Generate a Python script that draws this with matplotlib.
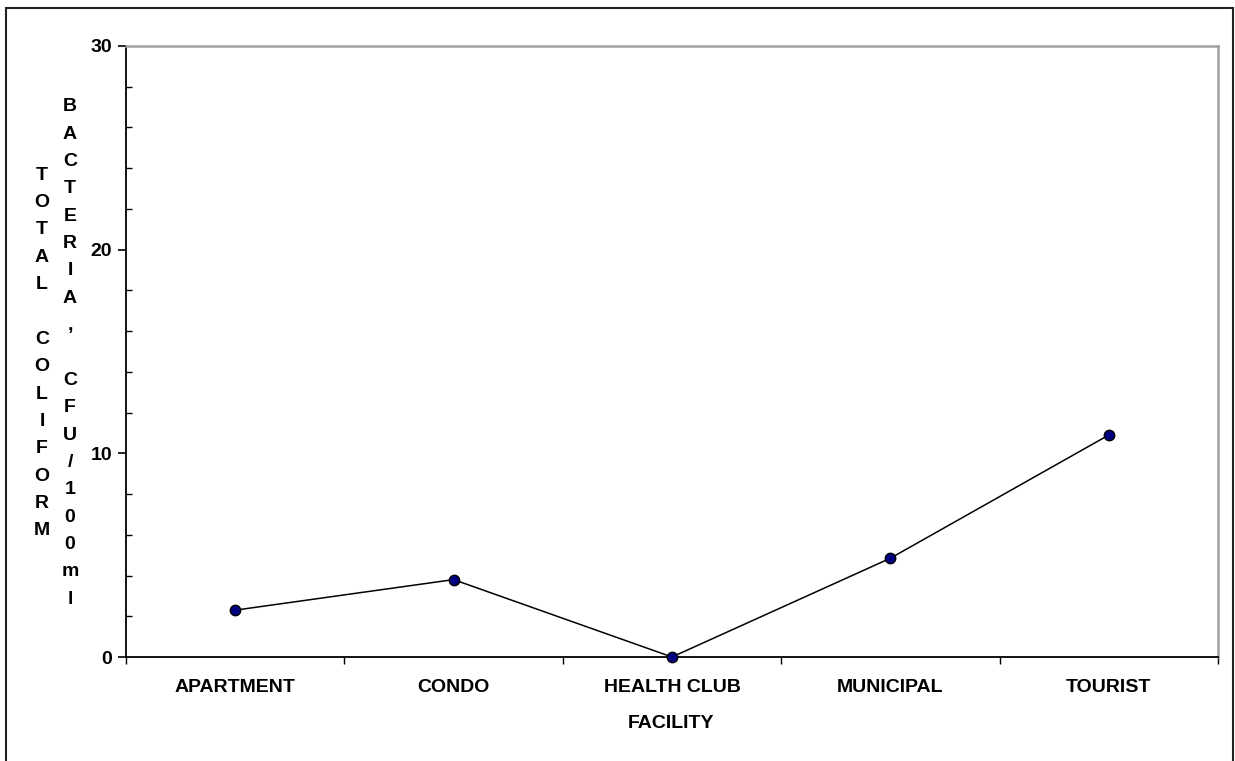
import matplotlib
matplotlib.use("Agg")
import matplotlib.pyplot as plt
from matplotlib.patches import Rectangle
from matplotlib.ticker import FixedLocator, MultipleLocator

categories = ["APARTMENT", "CONDO", "HEALTH CLUB", "MUNICIPAL", "TOURIST"]
values = [2.3, 3.8, 0.0, 4.85, 10.9]
y_ticks = [0, 10, 20, 30]
x_title = "FACILITY"
y_title_col1 = "TOTAL COLIFORM"
y_title_col2 = "BACTERIA, CFU/100ml"

W, H = 1235, 761
FS = 14
fig = plt.figure(figsize=(W / 100, H / 100), dpi=100)
plt.rcParams['font.family'] = ['Liberation Sans', 'DejaVu Sans']

# outer frame
fig.patches.append(Rectangle((6 / W, -0.05), (1233 - 6) / W, 1 - 8 / H + 0.05,
                             transform=fig.transFigure, fill=False,
                             edgecolor='#222222', linewidth=1.5))

L, R, T, B = 126, 1218, 46, 657
ax = fig.add_axes([L / W, 1 - B / H, (R - L) / W, (B - T) / H])

x = list(range(len(categories)))
ax.plot(x, values, color='black', linewidth=1.1, marker='o', markersize=7.5,
        markerfacecolor='#000080', markeredgecolor='black', markeredgewidth=1,
        zorder=5, clip_on=False)

ax.set_xlim(-0.5, len(categories) - 0.5)
ax.set_ylim(0, 30)

ax.set_yticks(y_ticks)
ax.set_yticklabels([str(v) for v in y_ticks], fontsize=FS, fontweight='bold')
ax.yaxis.set_minor_locator(MultipleLocator(2))
ax.tick_params(axis='y', which='major', direction='out', length=6, width=1.2, pad=4)
ax.tick_params(axis='y', which='minor', direction='in', length=4, width=1)

ax.xaxis.set_major_locator(FixedLocator([i - 0.5 for i in range(len(categories) + 1)]))
ax.set_xticklabels([])
ax.xaxis.set_minor_locator(FixedLocator(x))
ax.set_xticklabels(categories, minor=True, fontsize=FS, fontweight='bold')
ax.tick_params(axis='x', which='major', direction='out', length=5, width=1)
ax.tick_params(axis='x', which='minor', length=0, pad=16)

for s in ['left', 'bottom']:
    ax.spines[s].set_color('black')
    ax.spines[s].set_linewidth(1.3)
for s in ['top', 'right']:
    ax.spines[s].set_color('#a0a0a0')
    ax.spines[s].set_linewidth(1.8)

fig.text(671 / W, 1 - 723 / H, x_title, ha='center', va='center',
         fontsize=FS, fontweight='bold')

# stacked vertical y-axis title (two columns)
step = 27.35
cy = 353
for col_x, text in [(42, y_title_col1), (70, y_title_col2)]:
    n = len(text)
    for i, ch in enumerate(text):
        if ch == ' ':
            continue
        ypix = cy + (i - (n - 1) / 2) * step
        fig.text(col_x / W, 1 - ypix / H, ch, ha='center', va='center',
                 fontsize=FS, fontweight='bold')

fig.savefig("out.png", dpi=100)
